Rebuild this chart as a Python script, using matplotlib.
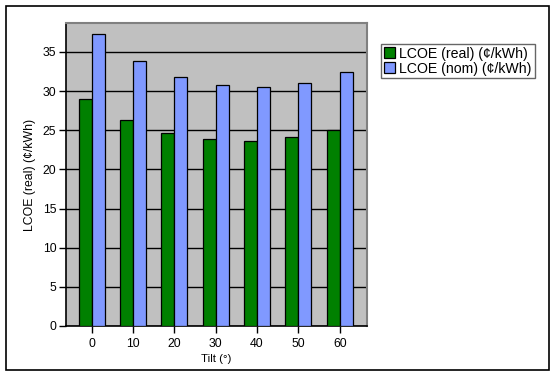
import numpy as np
import matplotlib
matplotlib.use('Agg')
import matplotlib.pyplot as plt
from matplotlib.patches import Rectangle

plt.rcParams['font.family'] = ['Liberation Sans', 'DejaVu Sans']

tilt = ['0', '10', '20', '30', '40', '50', '60']
lcoe_real = [29.0, 26.3, 24.7, 23.9, 23.6, 24.1, 25.0]
lcoe_nom = [37.3, 33.9, 31.8, 30.8, 30.5, 31.0, 32.4]
yticks = [0, 5, 10, 15, 20, 25, 30, 35]

fig = plt.figure(figsize=(5.56, 3.76), dpi=100)
fig.patches.append(Rectangle((6/556, 6/376), 543/556, 364/376, transform=fig.transFigure,
                             fill=False, edgecolor='black', linewidth=1.2))

ax = fig.add_axes([66/556, 1 - 326/376, 301/556, 303/376])
ax.set_facecolor('#c0c0c0')

x = np.arange(len(tilt))
w = 0.315
ax.bar(x - w/2, lcoe_real, w, color='#008000', edgecolor='black', linewidth=0.9,
       label='LCOE (real) (¢/kWh)', zorder=3)
ax.bar(x + w/2, lcoe_nom, w, color='#8099ff', edgecolor='black', linewidth=0.9,
       label='LCOE (nom) (¢/kWh)', zorder=3)

ax.set_xlim(-0.62, len(tilt) - 1 + 0.66)
ax.set_ylim(0, 38.7)
ax.set_yticks(yticks)
ax.set_xticks(x)
ax.set_xticklabels(tilt)
ax.yaxis.grid(True, color='black', linewidth=1.0, zorder=1)
ax.set_axisbelow(True)

ax.tick_params(axis='both', labelsize=8.8, colors='black', length=5, width=1)
ax.tick_params(axis='y', pad=2)
for s in ['top', 'right']:
    ax.spines[s].set_color('#808080')
    ax.spines[s].set_linewidth(1.5)
for s in ['left', 'bottom']:
    ax.spines[s].set_color('black')
    ax.spines[s].set_linewidth(1.2)

ax.set_ylabel('LCOE (real) (¢/kWh)', fontsize=8.8, labelpad=5)
ax.set_xlabel('Tilt (°)', fontsize=8.2, labelpad=3)

leg = fig.legend(loc='upper left', bbox_to_anchor=(381/556, 1 - 44/376), fontsize=10.2,
                 frameon=True, fancybox=False, handlelength=0.8, handleheight=0.8,
                 handletextpad=0.3, borderpad=0.2, labelspacing=0.05, borderaxespad=0)
leg.get_frame().set_edgecolor('#404040')
leg.get_frame().set_linewidth(1.0)

fig.savefig('out.png', dpi=100)
